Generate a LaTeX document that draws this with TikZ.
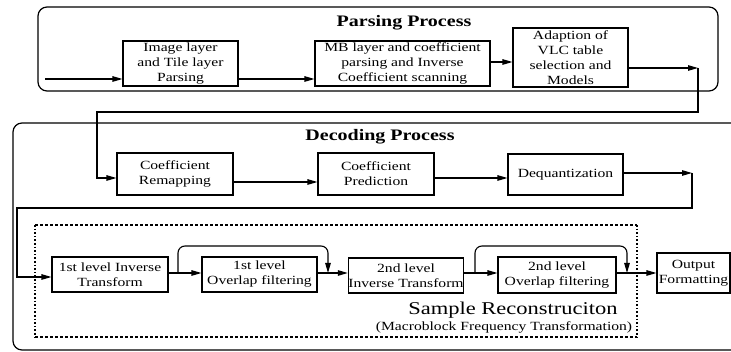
\documentclass[tikz,border=0pt]{standalone}
\usepackage{fontspec}
\setmainfont{Liberation Serif}
\newfontfamily\widefont{Liberation Serif}[FakeStretch=1.25]
\usetikzlibrary{positioning}
\usetikzlibrary{calc}
\usetikzlibrary{arrows.meta}

\begin{document}
\begin{tikzpicture}[
    x=1pt, y=-1pt,
    block/.style={draw, line width=1.1pt, inner sep=0pt, align=center, font=\widefont\fontsize{12.5}{15}\selectfont},
    flow/.style={line width=1.1pt, -{Triangle[length=10pt,width=5.5pt]}},
    link/.style={line width=1.1pt},
    stage/.style={draw, line width=1.2pt, rounded corners=9pt},
    heading/.style={font=\widefont\fontsize{16}{18}\selectfont\bfseries},
]
\useasboundingbox (0,0) rectangle (731,352);
% frames
\draw[stage] (38,7) rectangle (718,91);
\draw[stage] (13,123) rectangle (760,350);
\node[heading] (ptitle) at (404,23) {Parsing Process};
\node[heading] (dtitle) at (380,137) {Decoding Process};
\draw[line width=1.6pt, dash pattern=on 3pt off 2pt] (35,225) -- (637,225) (35,337) -- (637,337);
\draw[line width=1.6pt, dotted] (35,225) -- (35,337) (637,225) -- (637,337);
\node[font=\widefont\fontsize{18}{20}\selectfont] (srtitle) at (513,310) {Sample Reconstruciton};
\node[font=\widefont\fontsize{12.5}{15}\selectfont] (srsub) at (504,327) {(Macroblock Frequency Transformation)};

% parsing row
\node[block, minimum width=115pt, minimum height=45pt] (img) at (180.5,63.5) {Image layer\\and Tile layer\\Parsing};
\node[block, minimum width=175pt, minimum height=45pt] (mb) at (402.5,63.5) {MB layer and coefficient\\parsing and Inverse\\Coefficient scanning};
\node[block, minimum width=115pt, minimum height=59pt] (vlc) at (570.5,57.5) {Adaption of\\VLC table\\selection and\\Models};

% decoding row
\node[block, minimum width=116pt, minimum height=42pt] (remap) at (175,174) {Coefficient\\Remapping};
\node[block, minimum width=116pt, minimum height=42pt] (pred) at (376,174) {Coefficient\\Prediction};
\node[block, minimum width=115pt, minimum height=41pt] (deq) at (565.5,174.5) {Dequantization};

% reconstruction row
\node[block, minimum width=116pt, minimum height=35pt] (inv1) at (110,274.5) {1st level Inverse\\Transform};
\node[block, minimum width=115pt, minimum height=35pt] (ovl1) at (259.5,274.5) {1st level\\Overlap filtering};
\node[block, minimum width=112pt, minimum height=35pt] (inv2) at (406,275.5) {2nd level\\Inverse Transform};
\node[block, minimum width=118pt, minimum height=36pt] (ovl2) at (557,275) {2nd level\\Overlap filtering};
\node[block, minimum width=73pt, minimum height=40pt] (out) at (693.5,273) {Output\\Formatting};

% connectors
\coordinate (pin) at (45,79);
\draw[flow] (pin) -- (pin -| img.west);
\draw[flow] (img.east |- pin) -- (mb.west |- pin);
\draw[flow] ($(mb.east)+(0,-1.5)$) coordinate (m1) -- (m1 -| vlc.west);
\coordinate (c1) at (698,68);
\coordinate (c3) at (97,112);
\draw[flow] (vlc.east |- c1) -- (c1);
\draw[flow] (c1) |- (c3) |- ($(remap.west)+(0,4)$);
\draw[flow] ($(remap.east)+(0,8)$) coordinate (r1) -- (r1 -| pred.west);
\draw[flow] ($(pred.east)+(0,4)$) coordinate (p1) -- (p1 -| deq.west);
\coordinate (c4) at (692,173);
\coordinate (c5) at (17,208);
\draw[flow] (deq.east |- c4) -- (c4);
\draw[flow] (c4) |- (c5) |- ($(inv1.west)+(0,2.5)$);
\coordinate (b1) at (178,273);
\coordinate (b2) at (475,273);
\draw[link] (inv1.east |- b1) -- (b1);
\draw[flow] (b1) -- (b1 -| ovl1.west);
\draw[flow, rounded corners=7pt] (b1) -- (178,246) -- (328,246) -- (328,273);
\draw[flow] (ovl1.east |- b1) -- (inv2.west |- b1);
\draw[link] (inv2.east |- b2) -- (b2);
\draw[flow] (b2) -- (b2 -| ovl2.west);
\draw[flow, rounded corners=7pt] (b2) -- (475,246) -- (627,246) -- (627,273);
\draw[flow] (ovl2.east |- b2) -- (out.west |- b2);
\end{tikzpicture}
\end{document}
